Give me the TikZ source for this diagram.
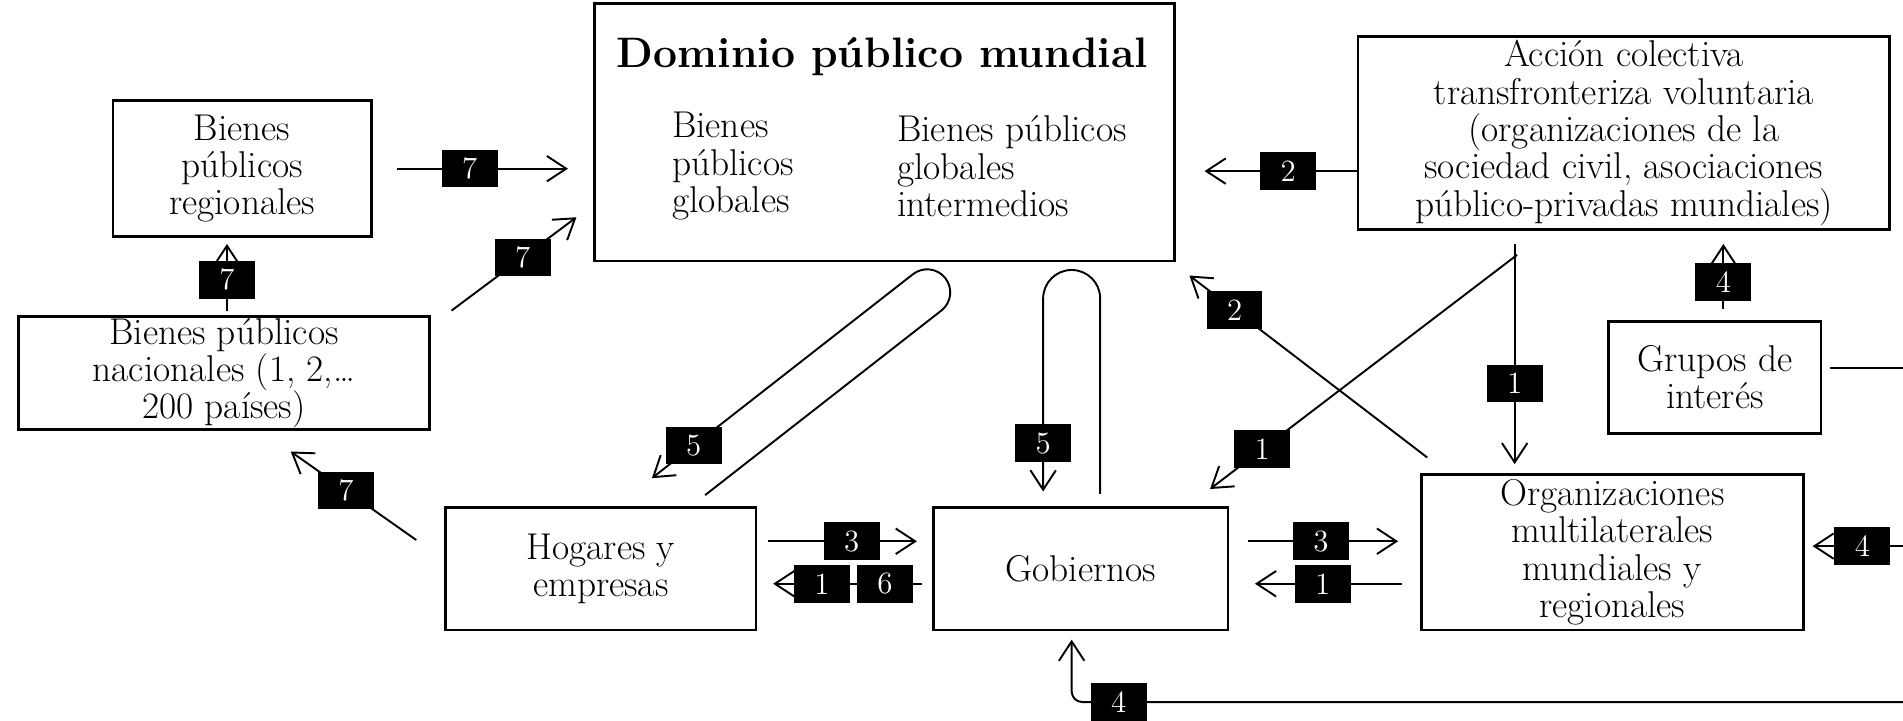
\documentclass[tikz,border=0pt]{standalone}
\usetikzlibrary{arrows.meta}

\begin{document}
\begin{tikzpicture}[x=0.02cm, y=0.02cm, line width=0.9pt,
    caja/.style={draw, line width=1.2pt, align=center, inner sep=0.5pt,
      font=\fontsize{17.5}{17.5}\selectfont},
    texto/.style={align=left, inner sep=0pt, anchor=west,
      font=\fontsize{17.5}{17.5}\selectfont},
    num/.style={fill=black, text=white, sharp corners, inner sep=0pt, minimum width=0.92cm,
      minimum height=0.62cm, font=\fontsize{14.5}{15}\selectfont},
    flecha/.style={-{Straight Barb[length=3.2mm, width=4.2mm]}}]
    \useasboundingbox (0,0) rectangle (1568,594);

    % cajas
    \node[caja, minimum width=4.26cm, minimum height=2.24cm] (reg) at (199.5,455) {Bienes\\públicos\\regionales};
    \node[caja, minimum width=9.56cm, minimum height=4.24cm] (dom) at (729,485) {};
    \node[font=\fontsize{20}{20}\selectfont\bfseries, inner sep=0pt, anchor=base] (domtit) at (727,538) {Dominio público mundial};
    \node[texto] (bpg) at (553,457) {Bienes\\públicos\\globales};
    \node[texto] (bpgi) at (738.5,457) {Bienes públicos\\globales\\intermedios};
    \node[caja, minimum width=8.76cm, minimum height=3.18cm] (acc) at (1338,484.5) {Acción colectiva\\transfronteriza voluntaria\\(organizaciones de la\\sociedad civil, asociaciones\\público-privadas mundiales)};
    \node[caja, minimum width=6.78cm, minimum height=1.86cm] (nac) at (184.5,286.5) {Bienes públicos\\nacionales (1, 2,\ldots\\200 países)};
    \node[caja, minimum width=3.5cm, minimum height=1.84cm] (grp) at (1413,283) {Grupos de\\interés};
    \node[caja, minimum width=5.12cm, minimum height=2.02cm] (hog) at (495,125.5) {Hogares y\\empresas};
    \node[caja, minimum width=4.86cm, minimum height=2.02cm] (gob) at (890.5,125.5) {Gobiernos};
    \node[caja, minimum width=6.3cm, minimum height=2.56cm] (org) at (1328.5,139) {Organizaciones\\multilaterales\\mundiales y\\regionales};

    % flechas 7
    \draw[flecha, shorten <=0.4cm, shorten >=0.42cm] (reg.east) -- node[num, pos=0.44] {7} (reg.east -| dom.west);
    \draw[flecha, shorten <=0.08cm, shorten >=0.1cm] (nac.north -| 187,0) -- node[num, pos=0.46] {7} (reg.south -| 187,0);
    \draw[flecha] ([shift={(17,4)}]nac.north east) -- node[num, pos=0.57] {7} ([shift={(-14,37)}]dom.south west);
    \draw[flecha] ([shift={(-23,-28)}]hog.north west) -- node[num, pos=0.56] {7} ([shift={(55,-17)}]nac.south);

    % lazos 5
    \draw[flecha] ([shift={(86,9)}]hog.north) -- ++(38:247) arc[start angle=-52, end angle=128, radius=19] -- node[num, pos=0.84] {5} ++(218:273);
    \draw[flecha] ([shift={(16,10)}]gob.north) -- ++(0,161) arc[start angle=0, end angle=180, radius=23.5] -- node[num, pos=0.75] {5} ++(0,-159);

    % hogares, gobiernos, organizaciones
    \draw[flecha, shorten <=0.18cm, shorten >=0.25cm] (hog.east |- 0,148) -- node[num, pos=0.54] {3} (gob.west |- 0,148);
    \draw[flecha, shorten <=0.16cm, shorten >=0.26cm] (gob.west |- 0,113) -- node[num, pos=0.27] {6} node[num, pos=0.63] {1} (hog.east |- 0,113);
    \draw[flecha, shorten <=0.31cm, shorten >=0.36cm] (gob.east |- 0,148) -- node[num, pos=0.48] {3} (org.west |- 0,148);
    \draw[flecha, shorten <=0.3cm, shorten >=0.42cm] (org.west |- 0,113) -- node[num, pos=0.51] {1} (gob.east |- 0,113);

    % accion colectiva
    \draw[flecha, shorten >=0.47cm] (acc.west |- 0,453) -- node[num, pos=0.38] {2} (dom.east |- 0,453);
    \draw[flecha] ([shift={(6,13)}]org.north west) -- node[num, pos=0.81] {2} ([shift={(11,-11)}]dom.south east);
    \draw[flecha] ([shift={(-88,-20)}]acc.south) -- node[num, pos=0.83] {1} ([shift={(-16,14)}]gob.north east);
    \draw[flecha, shorten <=0.22cm, shorten >=0.15cm] (acc.south -| 1248,0) -- node[num, pos=0.63] {1} (org.north -| 1248,0);
    \draw[flecha, shorten <=0.19cm, shorten >=0.22cm] (grp.north -| 1420,0) -- node[num, pos=0.43] {4} (acc.south -| 1420,0);

    % grupos de interes (borde derecho)
    \coordinate (ea) at (1600,290.5);
    \coordinate (eb) at (1600,144);
    \coordinate (ec) at (1600,15.5);
    \draw[shorten <=0.12cm] (grp.east |- ea) -- (ea) -- (ec);
    \draw[flecha, shorten >=0.13cm] (eb) -- node[num, pos=0.58] {4} (org.east |- eb);
    \draw[flecha, rounded corners=5pt, shorten >=0.14cm] (ec) -- node[num, pos=0.946] {4} (ec -| 883,0) -- (gob.south -| 883,0);
\end{tikzpicture}
\end{document}
